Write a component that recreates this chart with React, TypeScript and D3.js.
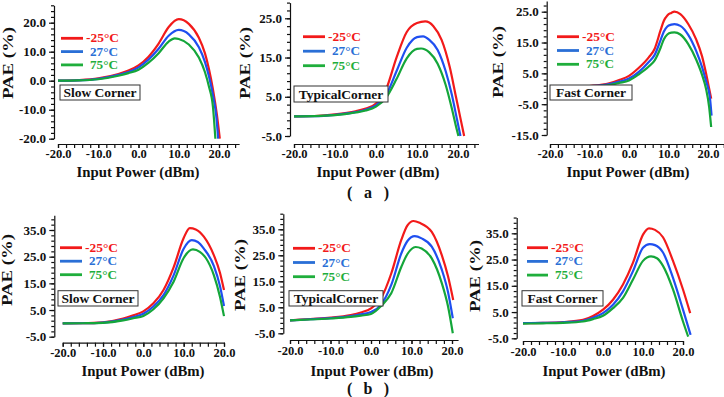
import React, { useEffect, useRef } from 'react'
import * as d3 from 'd3'

type Pt = [number, number]

// ---- data: PAE (%) vs input power (dBm) ----
// (a) slow corner
const slowA_m25: Pt[] = [[-20, 0], [-15, 0.2], [-10, 0.8], [-5, 2.3], [-2.5, 3.5], [0, 5.3], [2.5, 8.3], [5, 12.8], [7.5, 18.5], [10, 21.2], [12.5, 19.6], [15, 14.8], [16.5, 9.5], [17.5, 4], [18.5, -3], [19.5, -12], [20.2, -20]]
const slowA_27: Pt[] = [[-20, 0], [-15, 0.1], [-10, 0.6], [-5, 2], [-2.5, 3], [0, 4.6], [2.5, 7.3], [5, 11], [7.5, 15.5], [10, 17.5], [12.5, 16], [15, 11.5], [16.5, 6.5], [17.5, 1.5], [18.5, -5], [19.3, -12], [19.8, -20]]
const slowA_75: Pt[] = [[-20, 0], [-15, 0.1], [-10, 0.5], [-5, 1.7], [-2.5, 2.6], [0, 3.8], [2.5, 6.2], [5, 9.5], [7.5, 13.5], [9, 14.6], [10, 14.4], [12.5, 12.5], [15, 8], [16.5, 3], [17.5, -2], [18.5, -9], [19.1, -20]]
// (a) typical corner
const typA_m25: Pt[] = [[-20, 0], [-15, 0.1], [-10, 0.5], [-5, 1.3], [-2.5, 2], [0, 3.3], [2.5, 7], [5, 15], [7.5, 21.5], [10, 23.8], [12, 24.2], [14, 23], [16, 19.5], [18, 12.5], [19.5, 5], [20.5, 0], [21.5, -5]]
const typA_27: Pt[] = [[-20, 0], [-15, 0.05], [-10, 0.4], [-5, 1.1], [-2.5, 1.7], [0, 2.8], [2.5, 5.5], [5, 11.5], [7.5, 17.5], [10, 20.2], [11.5, 20.4], [13, 19.5], [15, 17], [17, 11.5], [18.5, 5.5], [19.8, -1], [20.6, -5]]
const typA_75: Pt[] = [[-20, 0], [-15, 0.05], [-10, 0.3], [-5, 1], [-2.5, 1.5], [0, 2.5], [2.5, 4.8], [5, 9.5], [7.5, 14.8], [10, 17.2], [11, 17.3], [13, 16.3], [15, 13.5], [17, 8], [18.5, 2], [19.5, -2.5], [20.1, -5]]
// (a) fast corner
const fastA_m25: Pt[] = [[-20, 0.3], [-15, 0.5], [-10, 0.9], [-5, 1.8], [-2.5, 2.8], [0, 4.2], [2.5, 6.8], [5, 10.2], [6.5, 13], [8, 19], [8.8, 22], [9.7, 23.8], [10.7, 24.6], [11.5, 25], [13, 24.2], [15, 21], [17, 16], [18.5, 10.5], [19.5, 5], [20.3, 0], [20.8, -3.2]]
const fastA_27: Pt[] = [[-20, 0.2], [-15, 0.4], [-10, 0.8], [-5, 1.5], [-2.5, 2.3], [0, 3.3], [2.5, 5.5], [5, 8.7], [6.5, 11], [8, 15.8], [8.8, 18.5], [9.7, 20.2], [10.7, 20.8], [11.5, 21], [13, 20.4], [15, 17.5], [17, 12.3], [18.5, 7], [19.5, 2.5], [20.5, -3], [20.9, -8.7]]
const fastA_75: Pt[] = [[-20, 0.1], [-15, 0.3], [-10, 0.6], [-5, 1.2], [-2.5, 1.9], [0, 2.7], [2.5, 4.7], [5, 7.2], [6.5, 9.2], [8, 13.3], [8.8, 16], [9.7, 17.6], [10.7, 18.2], [11.5, 18.3], [13, 17.6], [15, 14.5], [17, 9.5], [18.5, 4.5], [19.5, 0], [20.3, -6], [20.8, -12.4]]
// (b) slow corner
const slowB_m25: Pt[] = [[-20, 0], [-15, 0.05], [-10, 0.4], [-5, 1.8], [-2.5, 3], [0, 4.5], [2.5, 7.5], [5, 12.5], [7.5, 21], [10, 32], [11.5, 35.7], [13, 35.2], [15, 32.5], [17.5, 25.5], [19, 19], [20, 12.5]]
const slowB_27: Pt[] = [[-20, 0], [-15, 0.05], [-10, 0.3], [-5, 1.4], [-2.5, 2.4], [0, 3.6], [2.5, 6.3], [5, 10.6], [7.5, 18], [10, 28], [12, 31.2], [13.5, 30.5], [15, 28], [17.5, 21.5], [19, 14], [20, 6.5]]
const slowB_75: Pt[] = [[-20, 0], [-15, 0.05], [-10, 0.2], [-5, 1.1], [-2.5, 1.9], [0, 2.8], [2.5, 5.3], [5, 9.4], [7.5, 15.6], [10, 24.5], [12.3, 27.7], [14, 26.8], [15.5, 24.5], [17.5, 18], [19, 10], [20, 2.7]]
// (b) typical corner
const typB_m25: Pt[] = [[-20, 0], [-15, 0.5], [-10, 1], [-5, 2], [-2.5, 3], [0, 4.6], [2.5, 8.5], [5, 18], [7.5, 31], [9, 36.5], [10.5, 38.2], [12, 37.5], [15, 34], [17.5, 25], [19, 17], [20.3, 7.8]]
const typB_27: Pt[] = [[-20, 0], [-15, 0.4], [-10, 0.8], [-5, 1.6], [-2.5, 2.3], [0, 3.2], [2.5, 6], [5, 13.6], [7.5, 25.8], [9, 30.5], [10.8, 32.4], [12.5, 31.5], [15, 28.3], [17.5, 19.4], [19, 11], [20.2, 0.8]]
const typB_75: Pt[] = [[-20, 0], [-15, 0.3], [-10, 0.7], [-5, 1.3], [-2.5, 1.8], [0, 2.4], [2.5, 5.5], [5, 10.4], [7.5, 20.6], [9, 25.5], [11, 28.2], [12.5, 27.6], [15, 23.8], [17.5, 14.2], [19, 5.5], [20.2, -5]]
// (b) fast corner
const fastB_m25: Pt[] = [[-20, 0.8], [-15, 0.9], [-10, 1.2], [-5, 2], [-2.5, 3.5], [0, 5.9], [2.5, 9.7], [5, 15.5], [7.5, 23.8], [10, 34.5], [11.5, 36.9], [13, 36.3], [15, 33.5], [17.5, 24.5], [20, 13.6], [21.8, 4.6]]
const fastB_27: Pt[] = [[-20, 0.8], [-15, 0.9], [-10, 1.1], [-5, 1.7], [-2.5, 2.8], [0, 4.6], [2.5, 7.8], [5, 12.9], [7.5, 20.6], [10, 29.5], [11.7, 30.9], [13, 30.5], [15, 27.7], [17.5, 18], [20, 5.9], [21.9, -3.7]]
const fastB_75: Pt[] = [[-20, 0.6], [-15, 0.7], [-10, 0.9], [-5, 1.4], [-2.5, 2.3], [0, 3.6], [2.5, 6.5], [5, 10.4], [7.5, 17.4], [10, 24.5], [12, 26.2], [13.5, 25.5], [15, 22.6], [17.5, 13.6], [20, 1.4], [21.3, -4.4]]

const legendLabels = ['-25°C', '27°C', '75°C']
const xTickLabels = [-20, -10, 0, 10, 20]
const yTicksSlowA = [-20, -10, 0, 10, 20]
const yTicksTypA = [-5, 5, 15, 25]
const yTicksFastA = [-15, -5, 5, 15, 25]
const yTicksB = [-5, 5, 15, 25, 35]

const lineColors = ['#f21a1a', '#1f4ff0', '#14a63a']
const textColors = ['#f21a1a', '#2a6fd6', '#1fae3c']
const FONT = '"Liberation Serif", "Times New Roman", serif'

const panels = [
  { series: [slowA_m25, slowA_27, slowA_75], yTicks: yTicksSlowA, box: 'Slow Corner',
    x0: 58, x1: 219, xEnd: 25, xAxisY: 144, yAxisX: 54, yA: [20, 22.7], yB: [-20, 138.7], yMin: -20, yMax: 26,
    lg: [61, 83, 38.3, 13.3], bx: [60, 85, 80, 15], pae: [8, 63], titleX: 138, xLabY: 154, titleY: 172 },
  { series: [typA_m25, typA_27, typA_75], yTicks: yTicksTypA, box: 'TypicalCorner',
    x0: 294, x1: 458, xEnd: 25, xAxisY: 144, yAxisX: 290, yA: [25, 18.3], yB: [-5, 136], yMin: -5, yMax: 29,
    lg: [303, 325, 36.7, 14.5], bx: [294, 86, 94, 16], pae: [245, 63], titleX: 378, xLabY: 154, titleY: 172 },
  { series: [fastA_m25, fastA_27, fastA_75], yTicks: yTicksFastA, box: 'Fast Corner',
    x0: 550, x1: 708, xEnd: 25, xAxisY: 144, yAxisX: 546.7, yA: [25, 11.7], yB: [-15, 135], yMin: -15, yMax: 28.5,
    lg: [557, 579, 36.7, 13.8], bx: [550, 85, 82, 15], pae: [498, 62], titleX: 628, xLabY: 154, titleY: 172 },
  { series: [slowB_m25, slowB_27, slowB_75], yTicks: yTicksB, box: 'Slow Corner',
    x0: 62.7, x1: 224, xEnd: 20, xAxisY: 342.7, yAxisX: 54.3, yA: [35, 230], yB: [-5, 336.7], yMin: -5, yMax: 40.5,
    lg: [60, 82, 247.7, 13.5], bx: [58, 290.7, 80, 15.3], pae: [7, 270], titleX: 143, xLabY: 353, titleY: 371 },
  { series: [typB_m25, typB_27, typB_75], yTicks: yTicksB, box: 'TypicalCorner',
    x0: 290, x1: 452, xEnd: 21.5, xAxisY: 340, yAxisX: 283.3, yA: [35, 229.3], yB: [-5, 333.3], yMin: -5, yMax: 41,
    lg: [293, 315, 248.3, 14.2], bx: [289, 290.7, 94, 15.3], pae: [240, 275], titleX: 372, xLabY: 351, titleY: 371 },
  { series: [fastB_m25, fastB_27, fastB_75], yTicks: yTicksB, box: 'Fast Corner',
    x0: 523, x1: 683, xEnd: 20, xAxisY: 341, yAxisX: 516.7, yA: [35, 233.3], yB: [-5, 338.3], yMin: -5, yMax: 41,
    lg: [527, 548, 247.7, 13.7], bx: [522, 290.7, 81, 15.3], pae: [475, 276], titleX: 604, xLabY: 352, titleY: 371 },
]

const fmt = (d: number) => d.toFixed(1)

function drawPanel(svg: d3.Selection<SVGSVGElement, unknown, null, undefined>, p: any) {
  const g = svg.append('g')
  const x = d3.scaleLinear().domain([-20, 20]).range([p.x0, p.x1])
  const y = d3.scaleLinear().domain([p.yA[0], p.yB[0]]).range([p.yA[1], p.yB[1]])

  // y axis: minor + labelled ticks
  const yAx = d3.scaleLinear().domain([p.yMin, p.yMax]).range([y(p.yMin), y(p.yMax)])
  const yMinor = g.append('g').attr('transform', `translate(${p.yAxisX},0)`)
    .call(d3.axisLeft(yAx).tickValues(d3.range(p.yMin, p.yMax + 0.01, 2)).tickSize(3).tickSizeOuter(0).tickFormat(() => ''))
  const yMajor = g.append('g').attr('transform', `translate(${p.yAxisX},0)`)
    .call(d3.axisLeft(yAx).tickValues(p.yTicks).tickSize(5).tickPadding(3).tickFormat(fmt as any))
  yMajor.select('.domain').remove()

  // x axis
  const xAx = d3.scaleLinear().domain([-20, p.xEnd]).range([x(-20), x(p.xEnd)])
  const xMinor = g.append('g').attr('transform', `translate(0,${p.xAxisY})`)
    .call(d3.axisBottom(xAx).tickValues(d3.range(-20, p.xEnd + 0.01, 2)).tickSize(4).tickSizeOuter(0).tickFormat(() => ''))
  const xMajor = g.append('g').attr('transform', `translate(0,${p.xAxisY})`)
    .call(d3.axisBottom(xAx).tickValues(xTickLabels).tickSize(4).tickPadding(3).tickFormat(fmt as any))
  xMajor.select('.domain').remove()

  for (const ax of [yMinor, yMajor, xMinor, xMajor]) {
    ax.attr('font-family', FONT).attr('font-weight', 'bold')
    ax.selectAll('path,line').attr('stroke', '#111').attr('stroke-width', 1.2)
    ax.selectAll('text').attr('fill', '#111')
  }
  yMajor.attr('font-size', 13)
  xMajor.attr('font-size', 12.5)
  xMajor.selectAll('text').attr('dy', null)
    .attr('y', p.xLabY - p.xAxisY).attr('dominant-baseline', 'central')

  // curves
  const line = d3.line<Pt>().x(d => x(d[0])).y(d => y(d[1])).curve(d3.curveMonotoneX)
  p.series.forEach((s: Pt[], i: number) => {
    g.append('path').attr('d', line(s)).attr('fill', 'none')
      .attr('stroke', lineColors[i]).attr('stroke-width', 2.2).attr('stroke-linejoin', 'round')
  })

  // legend
  const [lx1, lx2, ly, ldy] = p.lg
  legendLabels.forEach((lab, i) => {
    const yy = ly + i * ldy
    g.append('line').attr('x1', lx1).attr('x2', lx2).attr('y1', yy).attr('y2', yy)
      .attr('stroke', textColors[i]).attr('stroke-width', 2.8)
    g.append('text').attr('x', lx2 + (i === 0 ? 3 : 7)).attr('y', yy).attr('dy', '0.35em')
      .attr('font-family', FONT).attr('font-size', 11.5).attr('font-weight', 'bold')
      .attr('textLength', i === 0 ? 33 : 28).attr('lengthAdjust', 'spacingAndGlyphs')
      .attr('fill', textColors[i]).text(lab)
  })

  // corner box
  const [bxx, byy, bw, bh] = p.bx
  g.append('rect').attr('x', bxx).attr('y', byy).attr('width', bw).attr('height', bh)
    .attr('fill', '#fff').attr('stroke', '#333').attr('stroke-width', 1)
  g.append('text').attr('x', bxx + bw / 2).attr('y', byy + bh / 2).attr('dy', '0.35em')
    .attr('text-anchor', 'middle').attr('font-family', FONT).attr('font-size', 13.5)
    .attr('font-weight', 'bold').attr('fill', '#111').text(p.box)

  // axis titles
  g.append('text').attr('transform', `translate(${p.pae[0]},${p.pae[1]}) rotate(-90)`)
    .attr('text-anchor', 'middle').attr('dy', '0.35em').attr('font-family', FONT)
    .attr('font-size', 14.5).attr('font-weight', 'bold').attr('fill', '#111')
    .attr('textLength', 72).attr('lengthAdjust', 'spacingAndGlyphs').text('PAE (%)')
  g.append('text').attr('x', p.titleX).attr('y', p.titleY).attr('dy', '0.35em')
    .attr('text-anchor', 'middle').attr('font-family', FONT).attr('font-size', 14.5)
    .attr('textLength', 123).attr('lengthAdjust', 'spacingAndGlyphs')
    .attr('font-weight', 'bold').attr('fill', '#111').text('Input Power (dBm)')
}

export default function App() {
  const ref = useRef<SVGSVGElement>(null)

  useEffect(() => {
    const svg = d3.select(ref.current!)
    svg.selectAll('*').remove()
    svg.append('rect').attr('width', 724).attr('height', 397).attr('fill', '#fff')
    panels.forEach(p => drawPanel(svg, p))
    const sub = (label: string, yy: number) =>
      svg.append('text').attr('x', 368).attr('y', yy).attr('dy', '0.35em').attr('text-anchor', 'middle')
        .attr('font-family', FONT).attr('font-size', 16).attr('font-weight', 'bold').attr('fill', '#111')
        .attr('textLength', 42).attr('lengthAdjust', 'spacing').text(label)
    sub('(\u00a0a\u00a0)', 192)
    sub('(\u00a0b\u00a0)', 388)
  }, [])

  return (
    <svg ref={ref} width={724} height={397}
      style={{ position: 'absolute', left: 0, top: 0, display: 'block', background: '#fff' }} />
  )
}
